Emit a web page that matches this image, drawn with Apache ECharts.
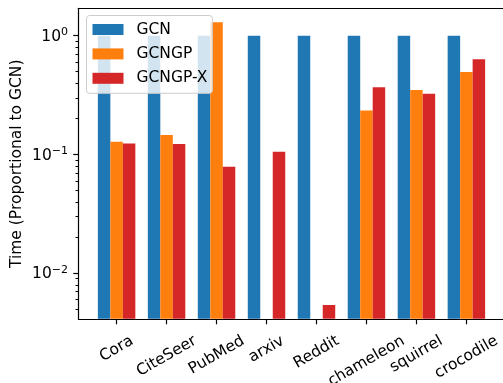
<!DOCTYPE html>
<html>
<head>
<meta charset="utf-8">
<script src="https://cdn.jsdelivr.net/npm/echarts@6/dist/echarts.min.js"></script>
<style>
  html, body { margin: 0; padding: 0; background: #fff; overflow: hidden; }
  #chart { width: 515px; height: 383px; }
</style>
</head>
<body>
<div id="chart"></div>
<script>
// Datasets on the x axis
const categories = ['Cora', 'CiteSeer', 'PubMed', 'arxiv', 'Reddit', 'chameleon', 'squirrel', 'crocodile'];
// Run time relative to GCN (null = not available)
const gcnTime = [1, 1, 1, 1, 1, 1, 1, 1];
const gcngpTime = [0.128, 0.146, 1.30, null, null, 0.234, 0.349, 0.495];
const gcngpXTime = [0.124, 0.1225, 0.079, 0.1056, 0.00541, 0.368, 0.325, 0.633];
const seriesNames = ['GCN', 'GCNGP', 'GCNGP-X'];
// Log axis range and ticks
const yRange = [0.0041, 1.70];
const yMajorTicks = [0.01, 0.1, 1];
const yMinorTicks = [0.005, 0.006, 0.007, 0.008, 0.009,
                     0.02, 0.03, 0.04, 0.05, 0.06, 0.07, 0.08, 0.09,
                     0.2, 0.3, 0.4, 0.5, 0.6, 0.7, 0.8, 0.9];

const FONT = '"DejaVu Sans", "Liberation Sans", sans-serif';
const FS = 15.5;
const colors = ['#1f77b4', '#ff7f0e', '#d62728'];
const barW = 0.25;                 // bar width in category units
const offsets = [-barW, 0, barW];  // group layout of the three bars
const xPad = 0.05 * (categories.length - 1 + 3 * barW);
const xMin = -1.5 * barW - xPad;
const xMax = categories.length - 1 + 1.5 * barW + xPad;
const catIdx = categories.map((_, i) => i);
const plotW = 426;
const spine = { color: '#000', width: 1.2 };

// Rotated tick labels: centre each rotated box under its tick, top edges aligned
const measureCtx = document.createElement('canvas').getContext('2d');
measureCtx.font = FS + 'px "DejaVu Sans"';
const xRich = {};
categories.forEach((c, i) => {
  const w = measureCtx.measureText(c).width;
  const d = 0.25 * w;
  xRich['l' + i] = { fontFamily: FONT, fontSize: FS, color: '#000', padding: [1.732 * d, d, 0, 0] };
});

function toPairs(arr) {
  const out = [];
  arr.forEach((v, i) => { if (v != null) out.push([i, v]); });
  return out;
}

function makeBarSeries(name, values, k) {
  return {
    name: name,
    type: 'custom',
    coordinateSystem: 'cartesian2d',
    xAxisIndex: 0, yAxisIndex: 0,
    itemStyle: { color: colors[k] },
    encode: { x: 0, y: 1 },
    data: toPairs(values),
    renderItem: function (params, api) {
      const x = api.value(0);
      const v = api.value(1);
      const tl = api.coord([x + offsets[k] - barW / 2, v]);
      const br = api.coord([x + offsets[k] + barW / 2, yRange[0]]);
      return {
        type: 'rect',
        shape: { x: tl[0], y: tl[1], width: br[0] - tl[0], height: br[1] - tl[1] - 0.6 },
        style: { fill: colors[k] }
      };
    }
  };
}

const chart = echarts.init(document.getElementById('chart'));
chart.setOption({
  animation: false,
  grid: { left: 78.5, top: 8.3, width: plotW, height: 311, show: false, containLabel: false, outerBoundsMode: 'none' },
  legend: {
    left: 86.5, top: 15.5, orient: 'vertical',
    itemWidth: 31, itemHeight: 11, itemGap: 8.4,
    padding: [6, 5, 7, 6],
    backgroundColor: 'rgba(255,255,255,0.8)',
    borderColor: '#cccccc', borderWidth: 1, borderRadius: 3,
    icon: 'rect',
    textStyle: { fontFamily: FONT, fontSize: FS, color: '#000', lineHeight: 15, padding: [0, 0, 0, 8] },
    data: seriesNames
  },
  xAxis: [{
    type: 'value', min: xMin, max: xMax, position: 'bottom',
    splitLine: { show: false },
    axisLine: { show: true, onZero: false, lineStyle: spine },
    axisTick: { show: true, length: 5, customValues: catIdx, lineStyle: spine },
    axisLabel: {
      customValues: catIdx,
      rotate: 30, align: 'center', verticalAlign: 'middle', margin: 20.5,
      fontFamily: FONT, fontSize: FS, color: '#000',
      formatter: function (v) { const i = Math.round(v); return '{l' + i + '|' + categories[i] + '}'; },
      rich: xRich
    }
  }, {
    // top spine
    type: 'value', min: xMin, max: xMax, position: 'top',
    splitLine: { show: false },
    axisLine: { show: true, onZero: false, lineStyle: spine },
    axisTick: { show: false },
    axisLabel: { show: false }
  }],
  yAxis: [{
    type: 'log', min: yRange[0], max: yRange[1], position: 'left',
    name: 'Time (Proportional to GCN)', nameLocation: 'middle', nameGap: 54, nameRotate: 90,
    nameMoveOverlap: false,
    nameTextStyle: { fontFamily: FONT, fontSize: FS, color: '#000' },
    splitLine: { show: false },
    axisLine: { show: true, onZero: false, lineStyle: spine },
    axisTick: { show: true, length: 5.25, customValues: yMajorTicks, lineStyle: spine },
    axisLabel: {
      customValues: yMajorTicks, margin: 10.5,
      fontFamily: FONT, fontSize: FS, color: '#000',
      formatter: function (v) {
        const e = Math.round(Math.log10(v));
        return '{b|10}{s|' + (e < 0 ? '\u2212' + (-e) : e) + '}';
      },
      rich: {
        b: { fontFamily: FONT, fontSize: FS, color: '#000', lineHeight: 18, verticalAlign: 'bottom' },
        s: { fontFamily: FONT, fontSize: 11, color: '#000', lineHeight: 11, verticalAlign: 'top' }
      }
    }
  }, {
    // minor ticks of the log axis, shifted onto the left spine
    type: 'log', min: yRange[0], max: yRange[1], position: 'right', offset: -plotW,
    splitLine: { show: false },
    axisLine: { show: false, onZero: false },
    axisLabel: { show: false },
    axisTick: { show: true, inside: true, length: 3, customValues: yMinorTicks, lineStyle: { color: '#000', width: 1 } }
  }],
  series: [
    makeBarSeries(seriesNames[0], gcnTime, 0),
    makeBarSeries(seriesNames[1], gcngpTime, 1),
    makeBarSeries(seriesNames[2], gcngpXTime, 2)
  ]
});
</script>
</body>
</html>
